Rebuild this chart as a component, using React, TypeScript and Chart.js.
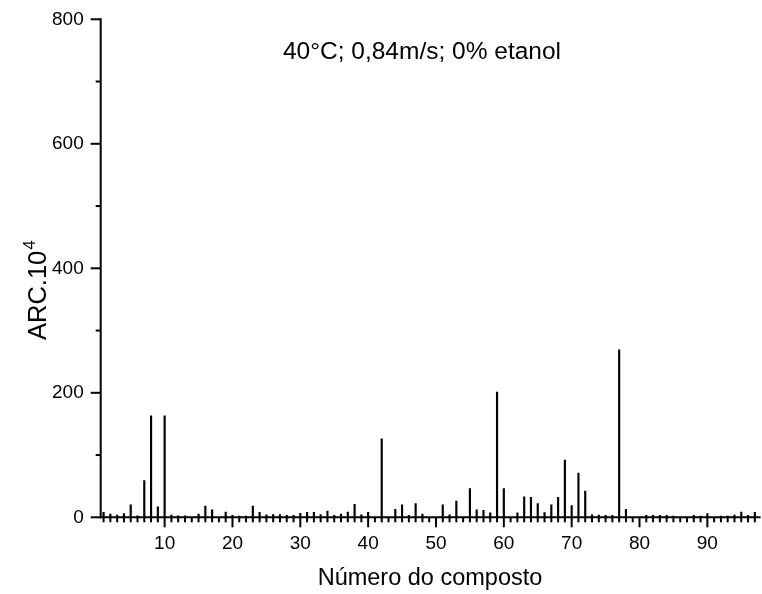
import React, { useEffect, useRef } from 'react';
import { Chart, registerables } from 'chart.js';

Chart.register(...registerables);

// Número do composto (1..97)
const compounds: number[] = Array.from({ length: 97 }, (_, i) => i + 1);

// ARC.10^4 per compound
const arcValues: number[] = [
  8, 5, 3.5, 6, 20, 2.5, 59, 163, 17, 163,
  3.5, 2.5, 2.5, 0, 5, 18, 12, 0, 8.5, 3,
  2, 2, 18, 8, 4, 4.5, 4.5, 3, 3, 6.5,
  8, 8, 4.5, 10, 3, 5, 8.5, 21, 4, 8,
  0, 126, 0, 13, 20, 3, 22, 5, 0, 0,
  20, 4, 26, 0, 46, 12, 11, 7, 201, 46,
  0, 7, 33, 32, 22, 7.5, 20, 32, 92, 19,
  71, 42, 4, 3.5, 3, 3, 269, 13, 0, 0,
  3, 3, 3, 3, 2, 0, 0, 3, 2, 6,
  0, 2, 2, 3.5, 8.5, 3, 8,
];

const xTickValues: number[] = [10, 20, 30, 40, 50, 60, 70, 80, 90];
const yTickValues: number[] = [0, 200, 400, 600, 800];
const yMinorTickValues: number[] = [100, 300, 500, 700];
const xMinorTickValues: number[] = compounds;

const annotationText = '40°C; 0,84m/s; 0% etanol';
const xTitle = 'Número do composto';
const yTitleMain = 'ARC.10';
const yTitleSup = '4';

const FONT = '"Liberation Sans", Arial, sans-serif';

export default function App() {
  const ref = useRef<HTMLCanvasElement | null>(null);

  useEffect(() => {
    const canvas = ref.current;
    if (!canvas) return;

    const axesPlugin = {
      id: 'originAxes',
      afterDatasetsDraw(chart: any) {
        const ctx = chart.ctx as CanvasRenderingContext2D;
        const xs = chart.scales.x;
        const ys = chart.scales.y;
        const { left, right } = chart.chartArea;
        const y0 = ys.getPixelForValue(0);
        const yTop = ys.getPixelForValue(800);
        ctx.save();
        ctx.strokeStyle = '#000';
        ctx.lineWidth = 2;
        ctx.lineCap = 'butt';
        // y axis
        ctx.beginPath();
        ctx.moveTo(left, yTop - 1);
        ctx.lineTo(left, y0 + 1);
        ctx.stroke();
        // x axis
        ctx.beginPath();
        ctx.moveTo(left - 1, y0);
        ctx.lineTo(right, y0);
        ctx.stroke();
        // y ticks
        yTickValues.forEach((v) => {
          const p = ys.getPixelForValue(v);
          ctx.beginPath();
          ctx.moveTo(left - 10, p);
          ctx.lineTo(left, p);
          ctx.stroke();
        });
        yMinorTickValues.forEach((v) => {
          const p = ys.getPixelForValue(v);
          ctx.beginPath();
          ctx.moveTo(left - 5, p);
          ctx.lineTo(left, p);
          ctx.stroke();
        });
        // x ticks
        xMinorTickValues.forEach((v) => {
          const p = xs.getPixelForValue(v);
          const major = xTickValues.includes(v);
          ctx.beginPath();
          ctx.moveTo(p, y0);
          ctx.lineTo(p, y0 + (major ? 10 : 5));
          ctx.stroke();
        });
        // annotation
        ctx.fillStyle = '#000';
        ctx.font = `24.5px ${FONT}`;
        ctx.textAlign = 'center';
        ctx.textBaseline = 'middle';
        ctx.fillText(annotationText, 422, 52);
        // x title
        ctx.font = `23.5px ${FONT}`;
        ctx.fillText(xTitle, 430, 579);
        // y title
        ctx.translate(46, 340);
        ctx.rotate(-Math.PI / 2);
        ctx.textAlign = 'left';
        ctx.textBaseline = 'alphabetic';
        ctx.font = `25.5px ${FONT}`;
        ctx.fillText(yTitleMain, 0, 0);
        const w = ctx.measureText(yTitleMain).width;
        ctx.font = `17px ${FONT}`;
        ctx.fillText(yTitleSup, w + 1, -11);
        ctx.restore();
      },
    };

    const chart = new Chart(canvas, {
      type: 'bar',
      data: {
        datasets: [
          {
            data: compounds.map((c, i) => ({ x: c, y: arcValues[i] })),
            backgroundColor: '#000',
            borderWidth: 0,
            barThickness: 1.5,
          },
        ],
      },
      options: {
        animation: false,
        responsive: false,
        devicePixelRatio: 1,
        layout: { padding: { top: 19.3, right: 1.4, left: 0, bottom: 0 } },
        plugins: { legend: { display: false }, tooltip: { enabled: false } },
        scales: {
          x: {
            type: 'linear',
            min: 0.575,
            max: 97.85,
            offset: false,
            grid: { display: false, drawTicks: false },
            border: { display: false },
            ticks: {
              color: '#000',
              font: { family: FONT, size: 19 },
              padding: 15,
              maxRotation: 0,
              autoSkip: false,
            },
            afterBuildTicks: (s: any) => {
              s.ticks = xTickValues.map((v) => ({ value: v }));
            },
            afterFit: (s: any) => {
              s.height = 76.7;
              s.paddingLeft = 0;
              s.paddingRight = 0;
            },
          },
          y: {
            type: 'linear',
            min: 0,
            max: 800,
            grid: { display: false, drawTicks: false },
            border: { display: false },
            ticks: {
              color: '#000',
              font: { family: FONT, size: 19 },
              padding: 17,
              autoSkip: false,
            },
            afterBuildTicks: (s: any) => {
              s.ticks = yTickValues.map((v) => ({ value: v }));
            },
            afterFit: (s: any) => {
              s.width = 100.7;
              s.paddingTop = 0;
              s.paddingBottom = 0;
            },
          },
        },
      },
      plugins: [axesPlugin],
    });

    return () => chart.destroy();
  }, []);

  return (
    <div style={{ position: 'absolute', left: 0, top: 0, width: 762, height: 594, background: '#fff' }}>
      <canvas ref={ref} width={762} height={594} />
    </div>
  );
}
